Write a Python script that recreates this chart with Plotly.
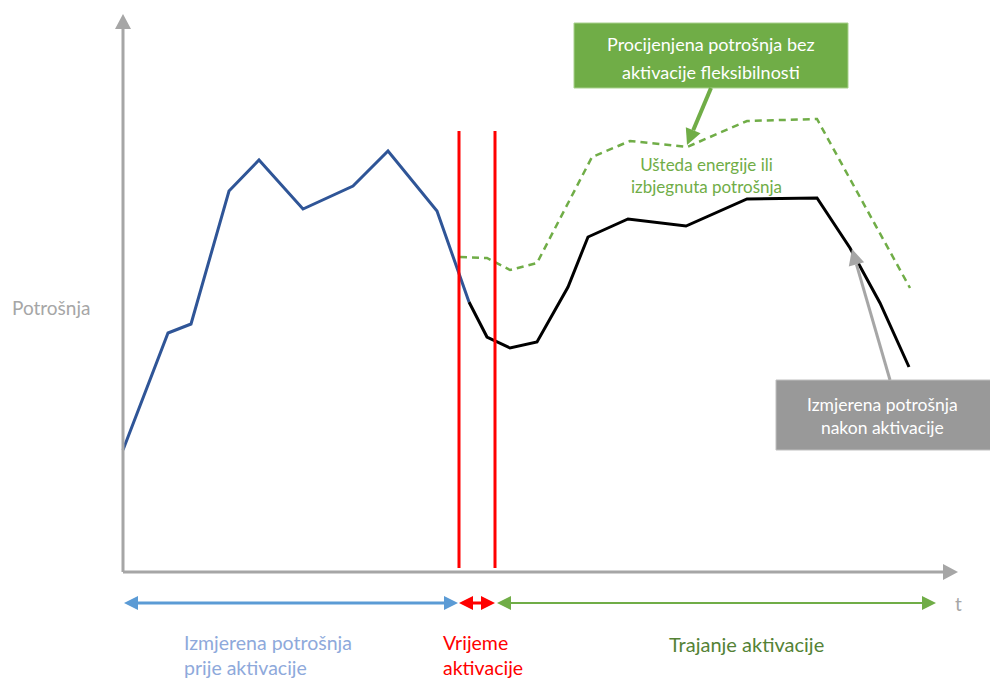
import plotly.graph_objects as go

# ---- data (time units from the origin, consumption units above the time axis) ----
before_t = [0, 45, 68, 106, 136, 180, 230, 265, 314, 346]
before_y = [122, 239, 248, 381, 412, 363, 386, 421, 361, 270]

after_t = [346, 364, 387, 414, 445, 465, 505, 563, 624, 694, 727, 757, 786]
after_y = [270, 235, 224, 230, 285, 335, 353, 346, 373, 374, 324, 269, 205]

est_t = [337, 364, 387, 414, 469, 507, 564, 624, 694, 787]
est_y = [315, 314, 302, 309, 415, 431, 425, 451, 453, 284]

activation_start = 336
activation_end = 372
activation_top = 441

FONT = "Lato"
GREEN = "#70AD47"
GREY = "#A6A6A6"

fig = go.Figure()

fig.add_trace(go.Scatter(x=before_t, y=before_y, mode="lines",
                         line=dict(color="#2F5597", width=3), hoverinfo="skip"))
fig.add_trace(go.Scatter(x=est_t, y=est_y, mode="lines",
                         line=dict(color=GREEN, width=2.5, dash="7px,5px"), hoverinfo="skip"))
fig.add_trace(go.Scatter(x=after_t, y=after_y, mode="lines",
                         line=dict(color="black", width=3), hoverinfo="skip"))
for xv in (activation_start, activation_end):
    fig.add_trace(go.Scatter(x=[xv, xv], y=[4, activation_top], mode="lines",
                             line=dict(color="#FF0000", width=3), hoverinfo="skip"))

shapes = []


def head(tip, tail, color, L=15, W=8):
    import math
    dx, dy = tip[0] - tail[0], tip[1] - tail[1]
    n = math.hypot(dx, dy)
    ux, uy = dx / n, dy / n
    bx, by = tip[0] - ux * L, tip[1] - uy * L
    px, py = -uy * W, ux * W
    path = f"M{tip[0]},{tip[1]} L{bx + px},{by + py} L{bx - px},{by - py} Z"
    shapes.append(dict(type="path", path=path, fillcolor=color, line=dict(width=0),
                       xref="x", yref="y", layer="above"))
    return bx, by


def arrow(tail, tip, color, width=3, L=15, W=8, both=False):
    bx, by = head(tip, tail, color, L, W)
    sx, sy = tail
    if both:
        sx, sy = head(tail, tip, color, L, W)
    shapes.append(dict(type="line", x0=sx, y0=sy, x1=bx, y1=by, xref="x", yref="y",
                       line=dict(color=color, width=width), layer="above"))


# axes
arrow((0, 0), (0, 558), GREY, width=3, L=15, W=8)
arrow((0, 0), (835, 0), GREY, width=3, L=15, W=8)
# period arrows
arrow((1, -31), (335, -31), "#5B9BD5", width=3, L=14, W=7, both=True)
arrow((336, -31), (372, -31), "#FF0000", width=3, L=14, W=7, both=True)
arrow((374, -31), (813, -31), GREEN, width=2, L=14, W=7, both=True)

# boxes
shapes.append(dict(type="rect", x0=451, x1=725, y0=484, y1=549, xref="x", yref="y",
                   fillcolor=GREEN, line=dict(color="#A9D18E", width=1), layer="above"))
shapes.append(dict(type="rect", x0=653, x1=870, y0=122, y1=192, xref="x", yref="y",
                   fillcolor="#999999", line=dict(color="#BFBFBF", width=1), layer="above"))
# callout arrows
arrow((588, 484), (564, 427), GREEN, width=4, L=16, W=8)
arrow((767, 192), (729, 323), GREY, width=3, L=16, W=8)

ann = []


def txt(x, y, s, color, size, xanchor="center", align="center"):
    ann.append(dict(x=x, y=y, text=s, showarrow=False, xref="x", yref="y",
                    xanchor=xanchor, yanchor="middle", align=align,
                    font=dict(family=FONT, size=size, color=color)))


txt(-72, 265, "Potrošnja", GREY, 19)
txt(835, -31, "t", GREY, 19)
txt(588, 528, "Procijenjena potrošnja bez", "white", 18)
txt(588, 500, "aktivacije fleksibilnosti", "white", 18)
txt(583, 397, "Ušteda energije ili<br>izbjegnuta potrošnja", GREEN, 17)
txt(759, 156, "Izmjerena potrošnja<br>nakon aktivacije", "white", 17.5)
txt(59, -83, "Izmjerena potrošnja<br>prije aktivacije", "#8EA9DB", 19.5,
    xanchor="left", align="left")
txt(318, -83, "Vrijeme<br>aktivacije", "#FF0000", 19.5, xanchor="left", align="left")
txt(623, -72, "Trajanje aktivacije", "#548235", 20)

fig.update_layout(
    width=990, height=679,
    margin=dict(l=0, r=0, t=0, b=0),
    paper_bgcolor="white", plot_bgcolor="white",
    showlegend=False,
    xaxis=dict(range=[-123, 867], visible=False, fixedrange=True),
    yaxis=dict(range=[-107, 572], visible=False, fixedrange=True),
    shapes=shapes, annotations=ann,
)

fig.write_html("out.html", config={"displayModeBar": False},
               post_script="document.body.style.margin='0';document.body.style.overflow='hidden';")
